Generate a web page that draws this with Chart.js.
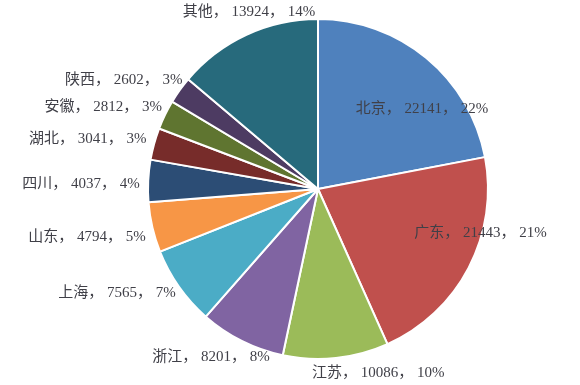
<!DOCTYPE html>
<html><head><meta charset="utf-8">
<script src="https://cdn.jsdelivr.net/npm/chart.js@4"></script>
<style>html,body{margin:0;padding:0;background:#fff}#wrap{width:580px;height:385px}</style>
</head><body><div id="wrap"><canvas id="c" width="580" height="385"></canvas></div>
<script>
const categories = ['北京','广东','江苏','浙江','上海','山东','四川','湖北','安徽','陕西','其他'];
const values = [22141,21443,10086,8201,7565,4794,4037,3041,2812,2602,13924];
const percents = [22,21,10,8,7,5,4,3,3,3,14];
const colors = ['#4F81BD','#C0504D','#9BBB59','#8064A2','#4BACC6','#F79646','#2C4D75','#772C2A','#5F7530','#4D3B62','#276A7C'];

const labelPlugin = {
  id: 'pieLabels',
  afterDatasetsDraw(chart, args, opts) {
    const ctx = chart.ctx;
    const meta = chart.getDatasetMeta(0);
    ctx.save();
    ctx.font = opts.font;
    ctx.fillStyle = opts.color;
    ctx.textAlign = 'center';
    ctx.textBaseline = 'middle';
    meta.data.forEach((arc, i) => {
      const text = categories[i] + '， ' + values[i] + '， ' + percents[i] + '%';
      const w = ctx.measureText(text).width;
      const h = 16;
      let mid = (arc.startAngle + arc.endAngle) / 2;
      const R = arc.outerRadius;
      let x, y;
      const ins = opts.placed[i];
      if (ins) {
        const a = mid + ins.shift * Math.PI / 180;
        x = arc.x + Math.cos(a) * R * ins.r;
        y = arc.y + Math.sin(a) * R * ins.r;
      } else {
        const c = Math.cos(mid), s = Math.sin(mid);
        x = arc.x + c * (R + opts.offset) + c * w / 2;
        y = arc.y + s * (R + opts.offset) + s * h / 2;
      }
      ctx.fillText(text, x, y);
    });
    ctx.restore();
  }
};

new Chart(document.getElementById('c'), {
  type: 'pie',
  data: {
    labels: categories,
    datasets: [{
      data: values,
      backgroundColor: colors,
      borderColor: '#ffffff',
      borderWidth: 2,
      hoverOffset: 0
    }]
  },
  options: {
    responsive: false,
    animation: false,
    radius: 170,
    layout: { padding: { left: 56, right: 0, top: 0, bottom: 7 } },
    plugins: {
      legend: { display: false },
      tooltip: { enabled: false },
      pieLabels: {
        font: '15px "Liberation Serif", "Noto Sans CJK SC", serif',
        color: '#404048',
        offset: 10,
        placed: {
          0: { r: 0.77, shift: 13 },
          1: { r: 0.99, shift: -12.4 },
          2: { r: 1.138, shift: -12.1 },
          4: { r: 1.331, shift: 7.8 },
          5: { r: 1.388, shift: 1.3 },
          6: { r: 1.394, shift: -1.6 },
          10: { r: 1.117, shift: 3.6 }
        }
      }
    }
  },
  plugins: [labelPlugin]
});
</script>
</body></html>
